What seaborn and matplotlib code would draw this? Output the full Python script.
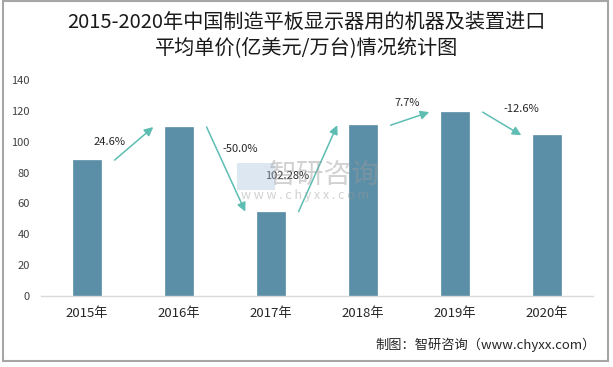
import matplotlib
matplotlib.use("Agg")
import matplotlib.pyplot as plt
from matplotlib.patches import Rectangle
import pandas as pd
import seaborn as sns

# data
years = ["2015年", "2016年", "2017年", "2018年", "2019年", "2020年"]
unit_price = [88.1, 109.5, 54.7, 110.7, 119.2, 104.2]
growth_labels = ["24.6%", "-50.0%", "102.28%", "7.7%", "-12.6%"]

TITLE = "2015-2020年中国制造平板显示器用的机器及装置进口\n平均单价(亿美元/万台)情况统计图"
SOURCE = "制图：智研咨询（www.chyxx.com）"

BAR_COLOR = "#5b8fa7"
ARROW_COLOR = "#5dbdb3"

# where each growth label sits: x offset from bar i, y in data units
LABEL_POS = [(0.25, 100), (0.67, 95), (0.18, 78), (0.48, 125), (0.72, 121)]

sns.set_theme(style="white")
plt.rcParams["font.family"] = ["Noto Sans CJK SC", "DejaVu Sans"]

df = pd.DataFrame({"year": years, "price": unit_price})

fig = plt.figure(figsize=(6.13, 3.67), dpi=100)
ax = fig.add_axes([0.0669, 0.1935, 0.9005, 0.5885])

sns.barplot(data=df, x="year", y="price", color=BAR_COLOR, width=0.3,
            saturation=1, edgecolor=BAR_COLOR, linewidth=0.5, ax=ax)

ax.set_ylim(0, 140)
ax.set_xlim(-0.5, len(years) - 0.5)
ax.set_yticks(range(0, 141, 20))
ax.set_xlabel("")
ax.set_ylabel("")
for side in ["top", "right", "left"]:
    ax.spines[side].set_visible(False)
ax.spines["bottom"].set_color("#d9d9d9")
ax.spines["bottom"].set_linewidth(1.0)
ax.tick_params(axis="y", labelsize=8, colors="#404040", length=0, pad=8)
ax.tick_params(axis="x", labelsize=9.5, colors="#262626", length=0, pad=8)

# faint watermark (drawn first so the marks sit on top)
fig.patches.append(Rectangle((0.387, 0.482), 0.062, 0.074, transform=fig.transFigure,
                             facecolor="#a8c4dd", alpha=0.4, edgecolor="none"))
fig.text(0.53, 0.523, "智研咨询", ha="center", va="center", fontsize=20,
         color="#9a9a9a", alpha=0.45)
fig.text(0.497, 0.466, "w w w . c h y x x . c o m", ha="center", va="center",
         fontsize=9, color="#9a9a9a", alpha=0.45)

# growth arrows between neighbouring bars
for i, label in enumerate(growth_labels):
    ax.annotate("", xy=(i + 0.72, unit_price[i + 1]), xytext=(i + 0.3, unit_price[i]),
                arrowprops=dict(arrowstyle="-|>", color=ARROW_COLOR, lw=1.1,
                                mutation_scale=13, shrinkA=0, shrinkB=0))
    dx, ly = LABEL_POS[i]
    ax.text(i + dx, ly, label, ha="center", va="center", fontsize=8, color="#262626")

fig.text(0.5, 0.905, TITLE, ha="center", va="center", fontsize=14.5,
         color="#1a1a1a", linespacing=1.3)
fig.text(0.972, 0.06, SOURCE, ha="right", va="center", fontsize=9.5, color="#262626")

# outer frame
fig.patches.append(Rectangle((0.005, 0.016), 0.987, 0.98, transform=fig.transFigure,
                             fill=False, edgecolor="#a6a6a6", linewidth=1.5))

fig.savefig("out.png", dpi=100)
